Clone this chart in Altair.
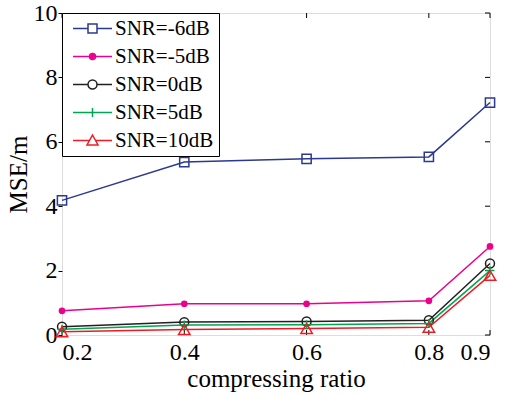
import altair as alt
import pandas as pd

ratio = [0.2, 0.4, 0.6, 0.8, 0.9]
series = ["SNR=-6dB", "SNR=-5dB", "SNR=0dB", "SNR=5dB", "SNR=10dB"]
mse_m6 = [4.18, 5.37, 5.47, 5.53, 7.22]
mse_m5 = [0.75, 0.97, 0.97, 1.06, 2.75]
mse_0 = [0.26, 0.40, 0.42, 0.46, 2.22]
mse_5 = [0.18, 0.31, 0.32, 0.36, 2.00]
mse_10 = [0.10, 0.17, 0.20, 0.24, 1.85]
colors = ["#2B3990", "#EC008C", "#231F20", "#00A651", "#ED1C24"]
x_ticks = [0.2, 0.4, 0.6, 0.8, 0.9]
y_ticks = [0, 2, 4, 6, 8, 10]

values = [mse_m6, mse_m5, mse_0, mse_5, mse_10]
rows = []
for s, vals in zip(series, values):
    for r, v in zip(ratio, vals):
        rows.append({"series": s, "ratio": r, "mse": v})
df = pd.DataFrame(rows)
df_xt = pd.DataFrame({"t": x_ticks})
df_yt = pd.DataFrame({"t": y_ticks})

W, H = 428, 322
FONT = "Liberation Serif"

xs = alt.Scale(domain=[0.2, 0.9], nice=False, zero=False)
ys = alt.Scale(domain=[0, 10], nice=False)

X = alt.X("ratio:Q", scale=xs, title="compressing ratio",
          axis=alt.Axis(values=x_ticks, format=".1f", grid=False, ticks=False,
                        domain=False, labelPadding=5, titlePadding=2,
                        labelFont=FONT, labelFontSize=24, titleFont=FONT,
                        titleFontSize=25, titleFontWeight="normal",
                        labelColor="black", titleColor="black"))
Y = alt.Y("mse:Q", scale=ys, title="MSE/m",
          axis=alt.Axis(values=y_ticks, grid=False, ticks=True, tickSize=4,
                        tickColor="black", domain=False, labelPadding=1,
                        titlePadding=2, labelFont=FONT, labelFontSize=24,
                        titleFont=FONT, titleFontSize=25,
                        titleFontWeight="normal", labelColor="black",
                        titleColor="black"))

base = alt.Chart(df)

marker_specs = [
    dict(shape="square", size=85, filled=False, strokeWidth=1.5),
    dict(shape="circle", size=45, filled=True, strokeWidth=0),
    dict(shape="circle", size=80, filled=False, strokeWidth=1.5),
    dict(shape="M-1,0H1M0,-1V1", size=80, filled=False, strokeWidth=1.5),
    dict(shape="triangle-up", size=130, filled=False, strokeWidth=1.5),
]

layers = []
for s, c in zip(series, colors):
    layers.append(
        base.transform_filter(alt.datum.series == s)
        .mark_line(color=c, strokeWidth=1.5)
        .encode(x=X, y=Y)
    )
for s, c, spec in zip(series, colors, marker_specs):
    layers.append(
        base.transform_filter(alt.datum.series == s)
        .mark_point(color=c, opacity=1, **spec)
        .encode(x=X, y=Y)
    )

legend_paths = [
    "M-0.9,0H2.1M3.9,0H6.9M2.1,-0.9H3.9V0.9H2.1Z",
    "M-0.9,0H6.9M3.1,0A0.1,0.1 0 1,1 2.9,0A0.1,0.1 0 1,1 3.1,0"
    "M3.3,0A0.3,0.3 0 1,1 2.7,0A0.3,0.3 0 1,1 3.3,0"
    "M3.6,0A0.6,0.6 0 1,1 2.4,0A0.6,0.6 0 1,1 3.6,0",
    "M-0.9,0H2.1M3.9,0H6.9M3.9,0A0.9,0.9 0 1,1 2.1,0A0.9,0.9 0 1,1 3.9,0",
    "M-0.9,0H6.9M3.0,-0.9V0.9",
    "M-0.9,0H2.4M3.6,0H6.9M3.0,-1.1L4.1,0.9H1.9Z",
]

leg = dict(title=None, orient="top-left", offset=0, strokeColor="black",
           fillColor="white", padding=5, labelFont=FONT, labelFontSize=21,
           labelColor="black", labelOffset=27, symbolSize=100,
           symbolStrokeWidth=1.5, rowPadding=6, labelLimit=300)

legend_layer = base.mark_point(opacity=0, filled=False).encode(
    x=X, y=Y,
    stroke=alt.Stroke("series:N", scale=alt.Scale(domain=series, range=colors),
                      legend=alt.Legend(**leg)),
    shape=alt.Shape("series:N", scale=alt.Scale(domain=series, range=legend_paths),
                    legend=alt.Legend(**leg)),
)
layers.append(legend_layer)

tick_len = 5
right_ticks = alt.Chart(df_yt).mark_rule(color="black", strokeWidth=1).encode(
    y=alt.Y("t:Q", scale=ys), x=alt.value(W - tick_len), x2=alt.value(W))
top_ticks = alt.Chart(df_xt).mark_rule(color="black", strokeWidth=1).encode(
    x=alt.X("t:Q", scale=xs), y=alt.value(0), y2=alt.value(tick_len))
bottom_ticks = alt.Chart(df_xt).mark_rule(color="black", strokeWidth=1).encode(
    x=alt.X("t:Q", scale=xs), y=alt.value(H - tick_len), y2=alt.value(H))

chart = alt.layer(right_ticks, top_ticks, bottom_ticks, *layers).properties(
    width=W, height=H,
    autosize=alt.AutoSizeParams(type="none"),
    padding={"left": 62, "top": 13, "right": 20, "bottom": 60},
).configure_view(stroke="black", strokeWidth=1).configure(background="white")

chart.save("out.html", embed_options={"renderer": "svg", "actions": False})
